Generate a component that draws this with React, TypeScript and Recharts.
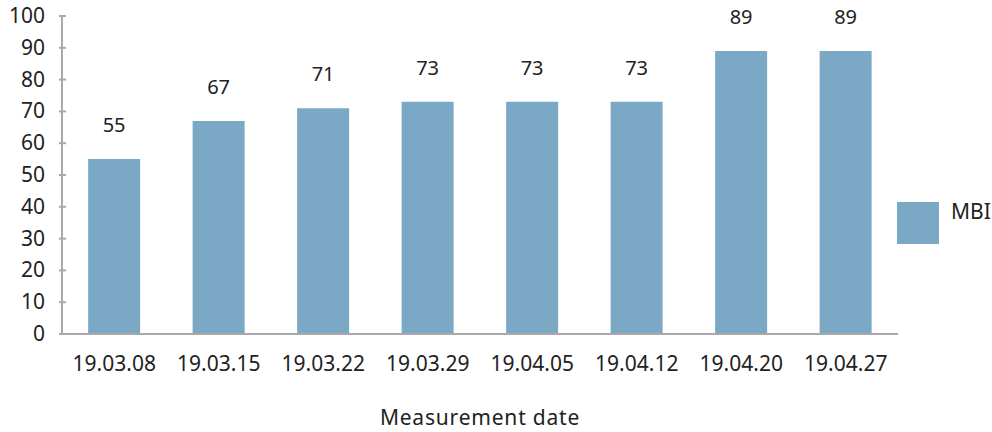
import { BarChart, Bar, XAxis, YAxis, Legend, LabelList } from 'recharts';

const dates = ['19.03.08', '19.03.15', '19.03.22', '19.03.29', '19.04.05', '19.04.12', '19.04.20', '19.04.27'];
const mbi = [55, 67, 71, 73, 73, 73, 89, 89];
const yTicks = [0, 10, 20, 30, 40, 50, 60, 70, 80, 90, 100];

const FONT = '"Noto Sans", sans-serif';
const BAR = '#7ba8c5';
const AXIS = '#aaa8a8';
const TEXT = '#222';

const data = dates.map((date, i) => ({ date, MBI: mbi[i] }));

// y tick: label plus a short mark that crosses the axis line
function YTick({ x, y, payload }: { x: number; y: number; payload: { value: number } }) {
  return (
    <g>
      <line x1={x + 14} x2={x + 21} y1={y} y2={y} stroke={AXIS} strokeWidth={2} />
      <text x={x} y={y} dy={7} textAnchor="end" fill={TEXT} fontSize={21} fontFamily={FONT}>
        {payload.value}
      </text>
    </g>
  );
}

function LegendBox() {
  return (
    <div style={{ display: 'flex', alignItems: 'flex-start', fontFamily: FONT }}>
      <div style={{ width: 42, height: 42, background: BAR }} />
      <span style={{ marginLeft: 12, marginTop: -5, fontSize: 21, color: TEXT }}>MBI</span>
    </div>
  );
}

export default function App() {
  return (
    <div style={{ position: 'absolute', left: 0, top: 0, background: '#fff' }}>
      <BarChart width={992} height={432} data={data} margin={{ top: 16, right: 94, left: 0, bottom: 0 }} barCategoryGap="25%">
        <XAxis
          dataKey="date"
          height={98}
          axisLine={{ stroke: AXIS, strokeWidth: 2 }}
          tickLine={false}
          tickMargin={16}
          tick={{ fill: TEXT, fontSize: 21, fontFamily: FONT }}
          label={{ value: 'Measurement date', position: 'insideBottom', offset: 7, fill: TEXT, fontSize: 21, fontFamily: FONT, letterSpacing: 0.8 }}
        />
        <YAxis
          width={62}
          domain={[0, 100]}
          ticks={yTicks}
          interval={0}
          axisLine={{ stroke: AXIS, strokeWidth: 2 }}
          tickLine={false}
          tickSize={0}
          tickMargin={17}
          tick={YTick}
        />
        {/* centred + middle keeps the legend from shrinking the plot; wrapperStyle places it */}
        <Legend
          layout="vertical"
          verticalAlign="middle"
          align="center"
          wrapperStyle={{ left: 897, top: 202, width: 95 }}
          content={LegendBox}
        />
        <Bar dataKey="MBI" fill={BAR} isAnimationActive={false}>
          <LabelList dataKey="MBI" position="top" offset={27} fill={TEXT} fontSize={20} fontFamily={FONT} />
        </Bar>
      </BarChart>
    </div>
  );
}
